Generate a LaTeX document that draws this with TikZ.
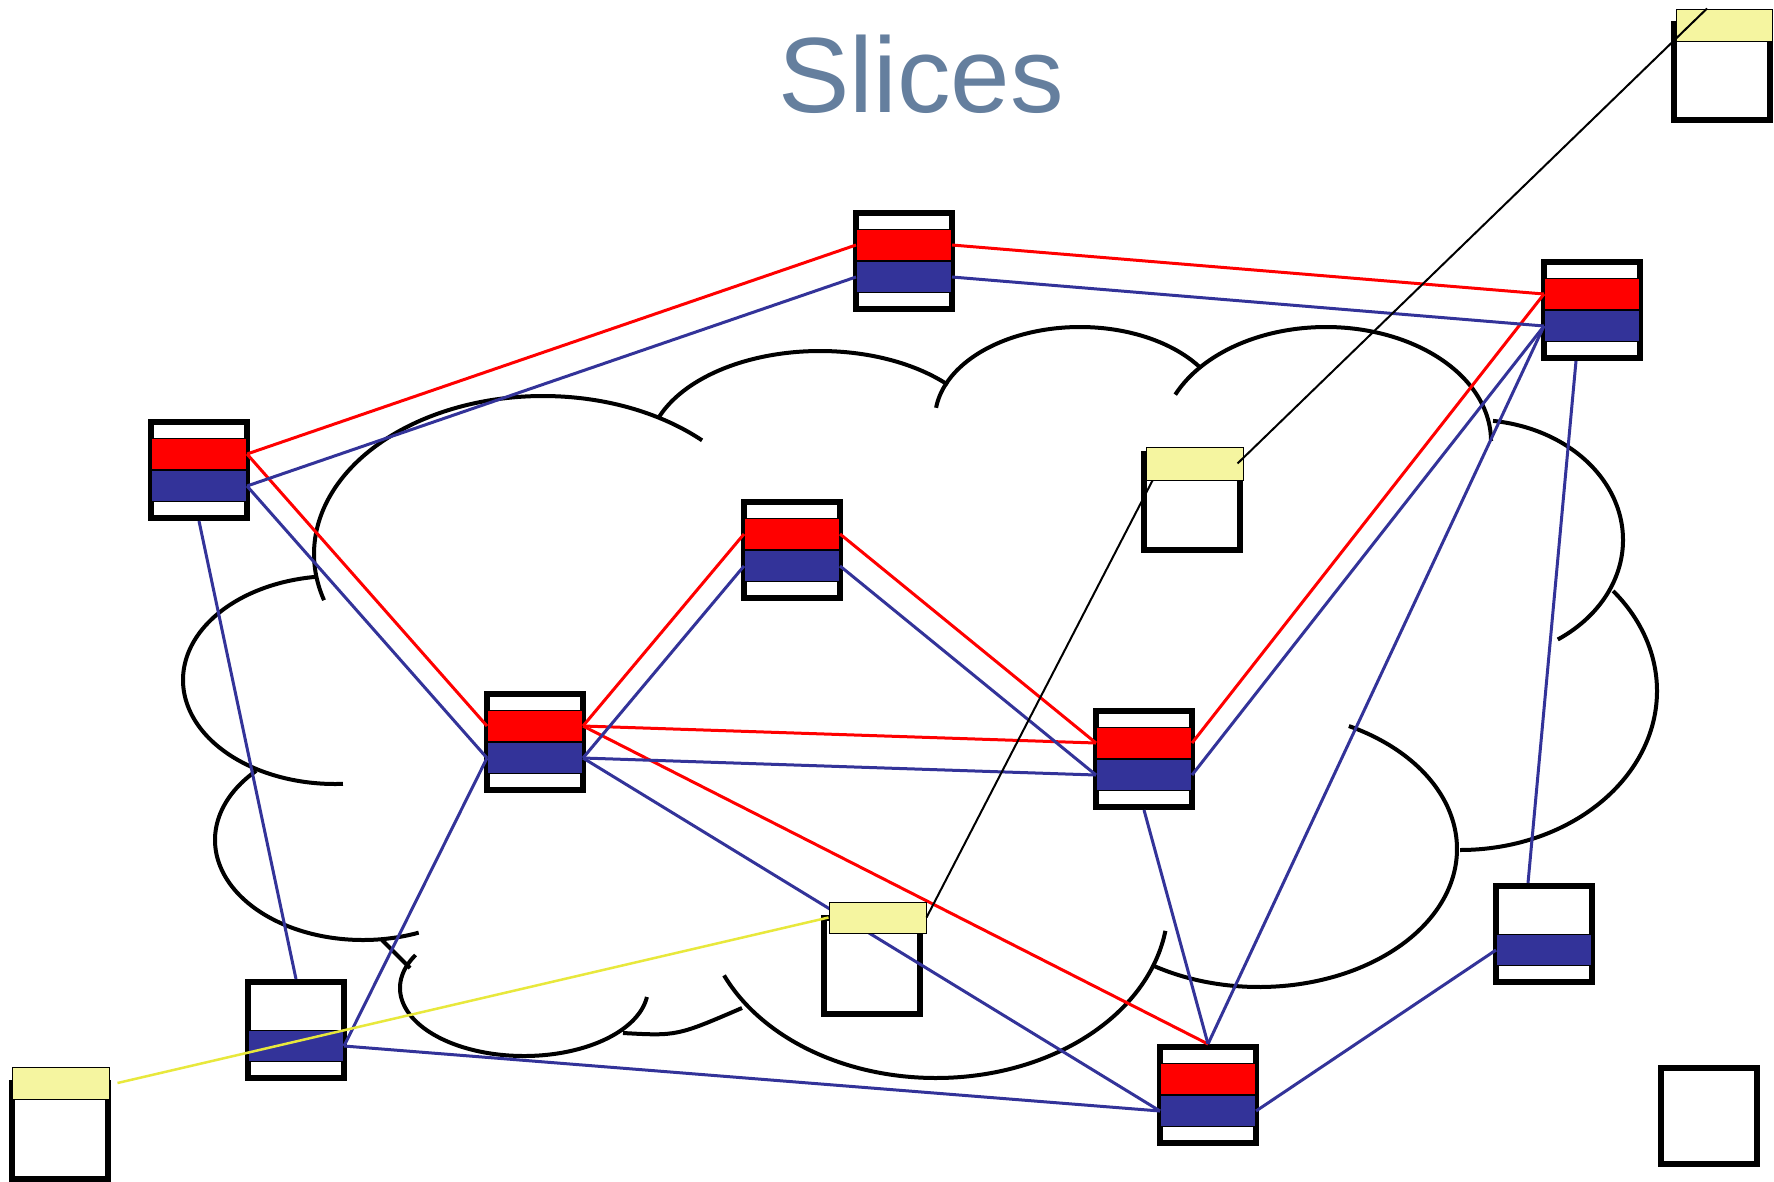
\documentclass[tikz,border=0pt]{standalone}
\usepackage{fontspec}
\setmainfont{Liberation Sans}
\usetikzlibrary{calc}
\definecolor{rred}{RGB}{255,0,0}
\definecolor{bblue}{RGB}{51,51,153}
\definecolor{yfill}{RGB}{245,245,160}
\definecolor{yline}{RGB}{232,232,60}
\definecolor{titlec}{RGB}{101,127,158}
\tikzset{
  boxframe/.style={draw=black, line width=6pt, fill=white, minimum width=96pt, minimum height=96pt, inner sep=0pt},
  redband/.style={draw=black, line width=1pt, fill=rred, minimum width=95pt, minimum height=31pt, inner sep=0pt},
  blueband/.style={draw=black, line width=1pt, fill=bblue, minimum width=95pt, minimum height=31pt, inner sep=0pt},
  ynote/.style={draw=black, line width=1pt, fill=yfill, inner sep=0pt, minimum width=97pt, minimum height=32pt},
  cloudline/.style={draw=black, line width=4pt},
  redl/.style={draw=rred, line width=3pt},
  bluel/.style={draw=bblue, line width=3pt},
  thinl/.style={draw=black, line width=2pt},
  yell/.style={draw=yline, line width=2.5pt}
}
\newcommand\cloudarc[6]{\draw[cloudline] plot[domain=#5:#6,samples=120] ({#1+#3*cos(\x)},{#2+#4*sin(\x)});}
\newcommand\mkrouter[3]{%
  \node[boxframe] (#1) at (#2,#3) {};
  \node[redband] (#1r) at (#2,#3-16) {};
  \node[blueband] (#1b) at (#2,#3+16) {};
}
\newcommand\mkhost[3]{%
  \node[boxframe] (#1) at (#2,#3) {};
  \node[blueband] (#1b) at (#2,#3+16) {};
}
\begin{document}
\begin{tikzpicture}[x=1pt,y=-1pt]
\fill[white] (0,0) rectangle (1774,1181);
\useasboundingbox (0,0) rectangle (1774,1181);

% title
\node[anchor=base, text=titlec, font=\fontsize{107}{120}\selectfont, inner sep=0pt] (title) at (921,112) {Slices};

% cloud
\cloudarc{543}{554}{229}{158}{163}{314}
\cloudarc{820}{453}{172}{102}{201}{318}
\cloudarc{1080}{419}{145}{92}{187}{326}
\cloudarc{1326}{441}{165}{114}{204}{360}
\cloudarc{1475}{540}{148}{120}{-83}{56}
\cloudarc{1460}{691}{197}{159}{-39}{90}
\cloudarc{1259}{849}{198}{138}{-63}{122}
\cloudarc{936}{905}{232}{173}{8.6}{156}
\draw[cloudline] (623,1033) .. controls (677,1036) .. (742,1008);
\cloudarc{524}{988}{124}{68}{7.6}{209}
\cloudarc{363}{840}{148}{100}{67.9}{223.8}
\cloudarc{335}{680}{152}{104}{87}{262.6}
\draw[cloudline] (382,940) -- (410,968);

% routers
\mkrouter{A}{199}{470}
\mkrouter{B}{904}{261}
\mkrouter{C}{1592}{310}
\mkrouter{D}{792}{550}
\mkrouter{E}{535}{742}
\mkrouter{F}{1144}{759}
\mkrouter{G}{1208}{1095}
% hosts
\mkhost{H1}{296}{1030}
\mkhost{H2}{1544}{934}
\node[boxframe] (Y1) at (1722,72) {};
\node[boxframe] (Y2) at (1192,502) {};
\node[boxframe] (Y3) at (872,966) {};
\node[boxframe] (Y4) at (60,1131) {};
\node[boxframe] (P) at (1709,1116) {};

% red slice
\draw[redl] (Ar.east) -- (Br.west);
\draw[redl] (Br.east) -- (Cr.west);
\draw[redl] (Ar.east) -- (Er.west);
\draw[redl] (Er.east) -- (Dr.west);
\draw[redl] (Dr.east) -- (Fr.west);
\draw[redl] (Er.east) -- (Fr.west);
\draw[redl] (Er.east) -- (G.north);
\draw[redl] (Fr.east) -- (Cr.west);

% blue slice
\draw[bluel] (Ab.east) -- (Bb.west);
\draw[bluel] (Bb.east) -- (Cb.west);
\draw[bluel] (Ab.east) -- (Eb.west);
\draw[bluel] (A.south) -- (H1.north);
\draw[bluel] (Eb.east) -- (Db.west);
\draw[bluel] (Db.east) -- (Fb.west);
\draw[bluel] (Eb.east) -- (Fb.west);
\draw[bluel] (Eb.east) -- (Gb.west);
\draw[bluel] (Eb.west) -- (H1b.east);
\draw[bluel] (H1b.east) -- (Gb.west);
\draw[bluel] (F.south) -- (G.north);
\draw[bluel] (Fb.east) -- (Cb.west);
\draw[bluel] (Cb.west) -- (G.north);
\draw[bluel] ($(C.south)+(-16,0)$) -- ($(H2.north)+(-16,0)$);
\draw[bluel] (H2b.west) -- (Gb.east);

% yellow labels
\node[ynote, minimum width=96pt] (Y1y) at (1724,25) {};
\node[ynote, minimum height=33pt] (Y2y) at (1194.5,463.5) {};
\node[ynote, minimum height=31pt] (Y3y) at (877.5,917.5) {};
\node[ynote] (Y4y) at (60.5,1083) {};

% thin connectors
\draw[thinl] ($(Y2y.east)+(-6,0)$) -- ($(Y1y.north)+(-17,0)$);
\draw[thinl] (Y3y.east) -- ($(Y2y.south west)+(7,0)$);
\draw[yell] ($(Y4y.east)+(8,0)$) -- (Y3y.west);
\end{tikzpicture}
\end{document}
